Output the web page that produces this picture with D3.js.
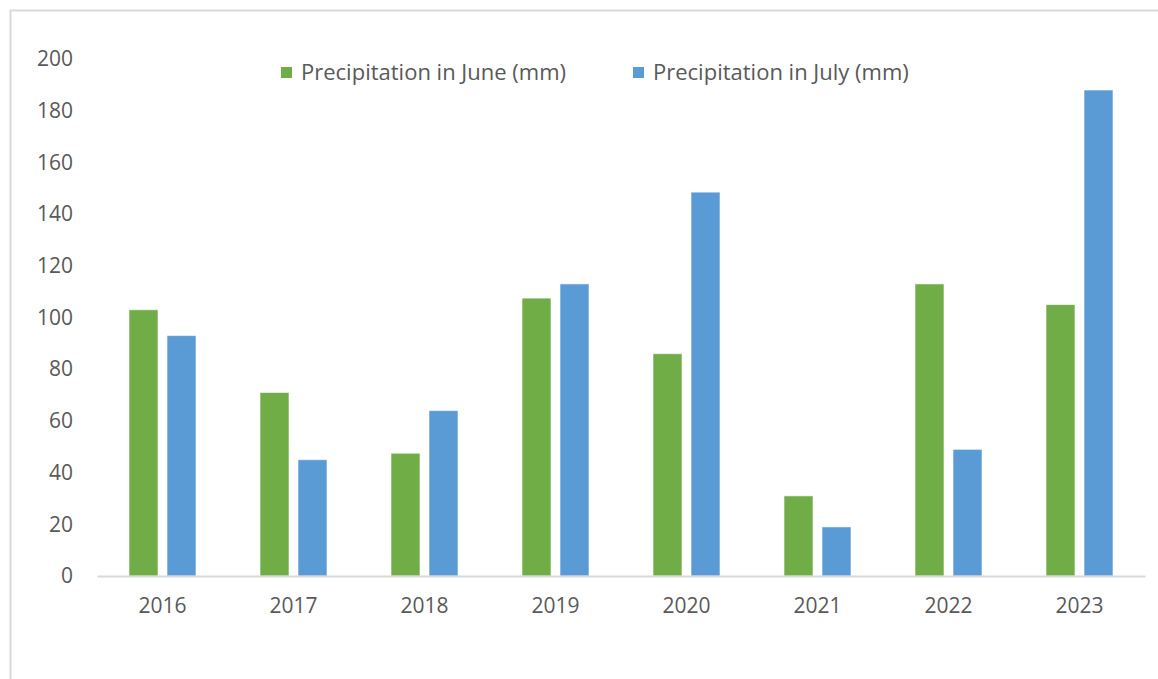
<!DOCTYPE html>
<html>
<head>
<meta charset="utf-8">
<script src="https://cdn.jsdelivr.net/npm/d3@7"></script>
<style>
  body { margin: 0; background: #fff; }
  text { font-family: "Open Sans", sans-serif; fill: #595959; }
</style>
</head>
<body>
<script>
var width = 1158;
var height = 679;

// data
var years = ['2016', '2017', '2018', '2019', '2020', '2021', '2022', '2023'];
var june = [103, 71, 47.5, 107.5, 86, 31, 113, 105];
var july = [93, 45, 64, 113, 148.5, 19, 49, 188];
var seriesNames = ['Precipitation in June (mm)', 'Precipitation in July (mm)'];
var yTicks = [0, 20, 40, 60, 80, 100, 120, 140, 160, 180, 200];

var colors = ['#70ad47', '#5b9bd5'];

var svg = d3.select('body')
  .append('svg')
  .attr('width', width)
  .attr('height', height);

// chart frame
svg.append('rect')
  .attr('x', 10.5)
  .attr('y', 10.5)
  .attr('width', 1170)
  .attr('height', 700)
  .attr('fill', 'none')
  .attr('stroke', '#d9d9d9')
  .attr('stroke-width', 2);

var margin = {left: 97, right: 1145, top: 59, bottom: 576};

var x = d3.scaleBand()
  .domain(years)
  .range([margin.left, margin.right]);

var x1 = d3.scaleBand()
  .domain([0, 1])
  .range([0, x.bandwidth()])
  .paddingInner(0.237)
  .paddingOuter(0.842);

var y = d3.scaleLinear()
  .domain([0, 200])
  .range([margin.bottom, margin.top]);

// y tick labels
var yAxis = svg.append('g')
  .attr('transform', 'translate(' + margin.left + ',0)')
  .call(d3.axisLeft(y).tickValues(yTicks).tickSize(0).tickPadding(24));
yAxis.select('.domain').remove();
yAxis.selectAll('text')
  .style('font-size', '21px')
  .attr('fill', '#595959');

// bars
var rows = years.map(function(yr, i) { return {year: yr, vals: [june[i], july[i]]}; });

var groups = svg.append('g')
  .selectAll('g')
  .data(rows)
  .enter()
  .append('g')
  .attr('transform', function(d) { return 'translate(' + x(d.year) + ',0)'; });

groups.selectAll('rect')
  .data(function(d) { return d.vals.map(function(v, k) { return {k: k, v: v}; }); })
  .enter()
  .append('rect')
  .attr('x', function(d) { return x1(d.k); })
  .attr('width', x1.bandwidth())
  .attr('y', function(d) { return y(d.v); })
  .attr('height', function(d) { return y(0) - y(d.v); })
  .attr('fill', function(d) { return colors[d.k]; })
  .attr('stroke', '#ffffff')
  .attr('stroke-opacity', 0.6)
  .attr('stroke-width', 1);

// x axis
var xAxis = svg.append('g')
  .attr('transform', 'translate(0,' + margin.bottom + ')')
  .call(d3.axisBottom(x).tickSize(0).tickPadding(22));
xAxis.select('.domain')
  .attr('stroke', '#d9d9d9')
  .attr('stroke-width', 2);
xAxis.selectAll('text')
  .style('font-size', '21px')
  .attr('fill', '#595959');

// legend
var legendX = [281, 633];
var legend = svg.append('g')
  .selectAll('g')
  .data(seriesNames)
  .enter()
  .append('g')
  .attr('transform', function(d, i) { return 'translate(' + legendX[i] + ',67)'; });

legend.append('rect')
  .attr('width', 11)
  .attr('height', 11)
  .attr('fill', function(d, i) { return colors[i]; });

legend.append('text')
  .attr('x', 20)
  .attr('y', 13)
  .style('font-size', '22px')
  .text(function(d) { return d; });
</script>
</body>
</html>
